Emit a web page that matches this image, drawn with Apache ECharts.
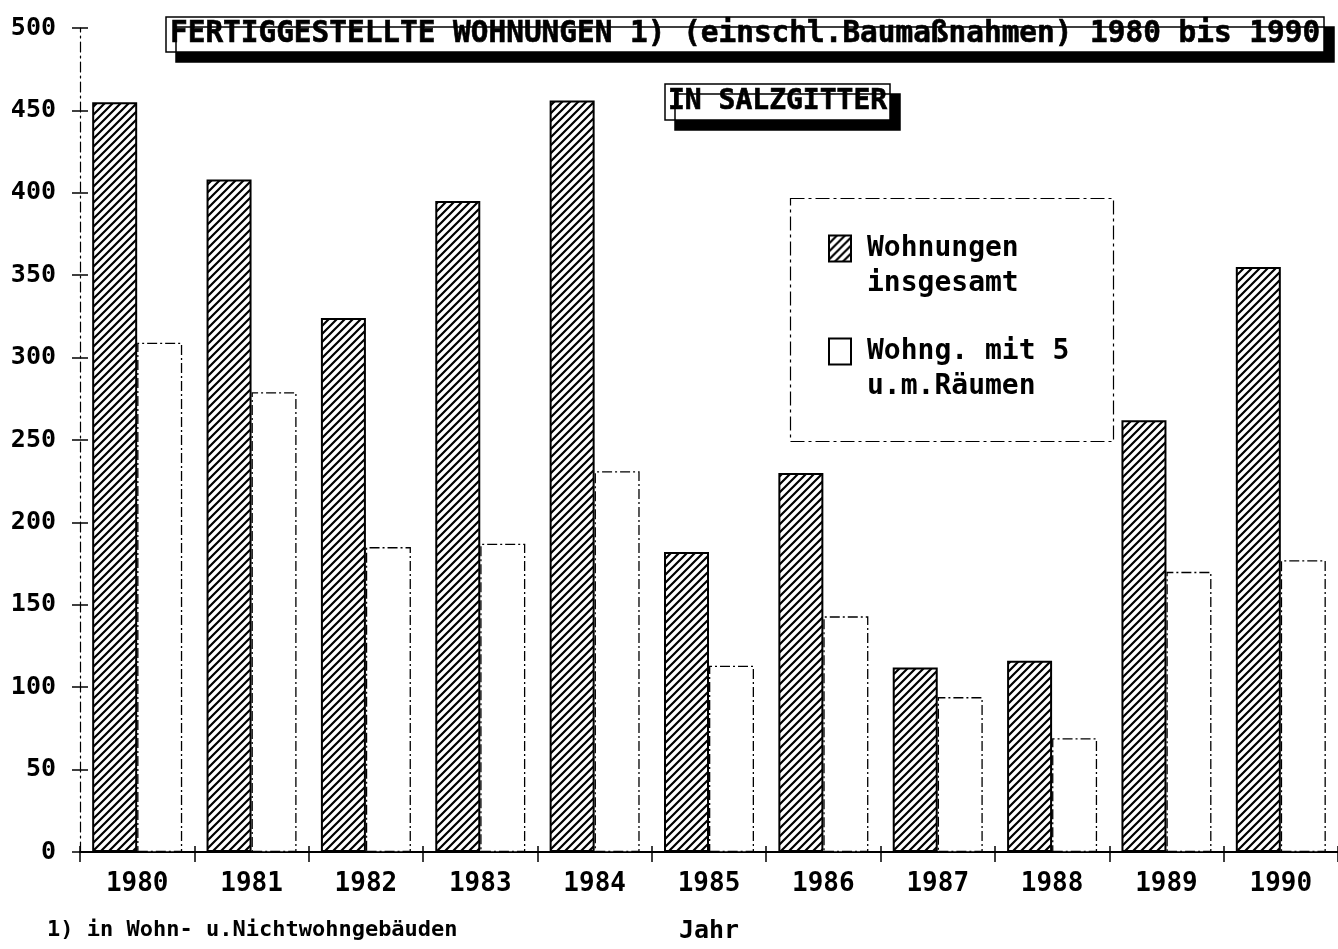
<!DOCTYPE html>
<html><head><meta charset="utf-8">
<script src="https://cdn.jsdelivr.net/npm/echarts@6/dist/echarts.min.js"></script>
<style>html,body{margin:0;padding:0;background:#fff}#c{width:1338px;height:949px}</style>
</head><body><div id="c"></div>
<script>
const years = ['1980','1981','1982','1983','1984','1985','1986','1987','1988','1989','1990'];
const wohnungenInsgesamt = [455, 408, 324, 395, 456, 182, 230, 112, 116, 262, 355];
const wohnungenMit5 = [309, 279, 185, 187, 231, 113, 143, 94, 69, 170, 177];
const seriesNames = ['Wohnungen\ninsgesamt', 'Wohng. mit 5\nu.m.Räumen'];
const titleText = 'FERTIGGESTELLTE WOHNUNGEN 1) (einschl.Baumaßnahmen) 1980 bis 1990';
const subtitleText = 'IN SALZGITTER';
const footnoteText = '1) in Wohn- u.Nichtwohngebäuden';
const xAxisName = 'Jahr';

const FONT = 'DejaVu Sans Mono';

// diagonal hatch pattern (lines x+y = 0, T, 2T)
const T = 8;
const pc = document.createElement('canvas');
pc.width = T; pc.height = T;
const g = pc.getContext('2d');
g.fillStyle = '#fff'; g.fillRect(0,0,T,T);
g.strokeStyle = '#000'; g.lineWidth = 2.2;
g.beginPath();
g.moveTo(-2, T + 2); g.lineTo(T + 2, -2);
g.moveTo(-3, 3); g.lineTo(3, -3);
g.moveTo(T - 3, T + 3); g.lineTo(T + 3, T - 3);
g.stroke();

const chart = echarts.init(document.getElementById('c'));
chart.setOption({
  animation: false,
  backgroundColor: '#fff',
  title: [
    { text: titleText, left: 166, top: 17, padding: [3, 4, 3, 4],
      backgroundColor: '#fff', borderColor: '#000', borderWidth: 1.5,
      shadowColor: '#000', shadowBlur: 0, shadowOffsetX: 10, shadowOffsetY: 10,
      textStyle: { fontFamily: FONT, fontWeight: 'bold', fontSize: 29.4, color: '#000', textBorderColor: '#000', textBorderWidth: 0.6 } },
    { text: subtitleText, left: 665, top: 84, padding: [4, 3, 4, 3],
      backgroundColor: '#fff', borderColor: '#000', borderWidth: 1.5,
      shadowColor: '#000', shadowBlur: 0, shadowOffsetX: 10, shadowOffsetY: 10,
      textStyle: { fontFamily: FONT, fontWeight: 'bold', fontSize: 28, color: '#000', textBorderColor: '#000', textBorderWidth: 0.6 } },
    { text: footnoteText, left: 47, top: 919, padding: 0,
      textStyle: { fontFamily: FONT, fontWeight: 'bold', fontSize: 22, color: '#000' } }
  ],
  legend: {
    orient: 'vertical', left: 789, top: 196,
    padding: [0, 40, 35, 39],
    itemWidth: 22, itemHeight: 26, itemGap: -2,
    icon: 'rect',
    data: seriesNames,
    formatter: function (name) { return '\n' + name; },
    textStyle: { fontFamily: FONT, fontWeight: 'bold', fontSize: 28, lineHeight: 35, color: '#000', padding: [0, 0, 0, 11] }
  },
  graphic: [
    { type: 'rect', left: 788, top: 196, shape: { width: 323, height: 243 },
      style: { fill: 'none', stroke: '#000', lineWidth: 1.2, lineDash: [14, 4, 3, 4] }, z: 10 }
  ],
  grid: { left: 80, top: 28, width: 1264, height: 825, containLabel: false },
  xAxis: [
    { type: 'category', data: years, position: 'bottom',
      name: xAxisName, nameLocation: 'middle', nameGap: 67,
      nameTextStyle: { fontFamily: FONT, fontWeight: 'bold', fontSize: 25, color: '#000' },
      axisLine: { lineStyle: { color: '#000', width: 2 } },
      axisTick: { show: true, length: 10, lineStyle: { color: '#000', width: 1.5 } },
      axisLabel: { margin: 19, fontFamily: FONT, fontWeight: 'bold', fontSize: 26, color: '#000' } },
    { type: 'category', data: years, position: 'bottom',
      axisLine: { show: false },
      axisTick: { show: true, inside: true, length: 6, lineStyle: { color: '#000', width: 1.5 } },
      axisLabel: { show: false } }
  ],
  yAxis: [
    { type: 'value', min: 0, max: 500, interval: 50,
      axisLine: { show: true, lineStyle: { color: '#000', width: 1.2, type: [10, 4, 2, 4] } },
      axisTick: { show: true, length: 8, lineStyle: { color: '#000', width: 1.5 } },
      splitLine: { show: false },
      axisLabel: { margin: 24, fontFamily: FONT, fontWeight: 'bold', fontSize: 25, color: '#000' } },
    { type: 'value', min: 0, max: 500, interval: 50, position: 'left',
      axisLine: { show: false },
      axisTick: { show: true, inside: true, length: 8, lineStyle: { color: '#000', width: 1.5 } },
      splitLine: { show: false },
      axisLabel: { show: false } }
  ],
  series: [
    { name: seriesNames[0], type: 'bar', data: wohnungenInsgesamt, barWidth: 45, barGap: '0%',
      itemStyle: { color: { image: pc, repeat: 'repeat' }, borderColor: '#000', borderWidth: 2 } },
    { name: seriesNames[1], type: 'bar', data: wohnungenMit5, barWidth: 45, barGap: '0%',
      itemStyle: { color: '#fff', borderColor: '#000', borderWidth: 1.3, borderType: [10, 3, 2, 3] } }
  ]
});
</script></body></html>
